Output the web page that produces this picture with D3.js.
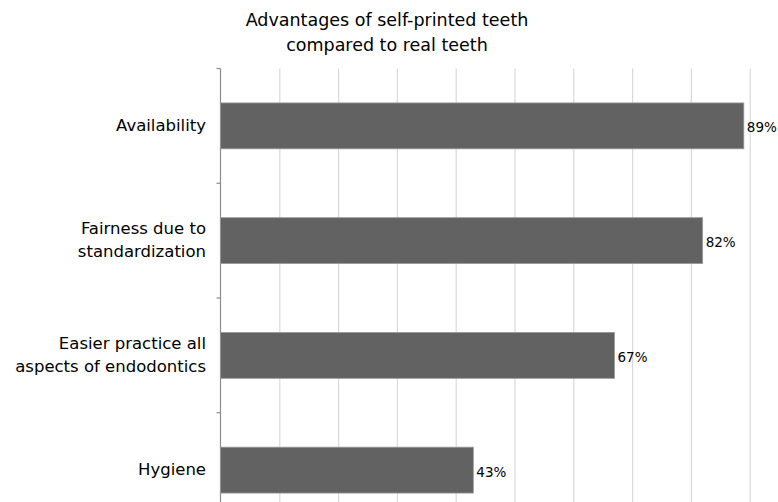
<!DOCTYPE html>
<html>
<head>
<meta charset="utf-8">
<script src="https://cdn.jsdelivr.net/npm/d3@7"></script>
<style>
  html, body { margin: 0; padding: 0; background: #fff; }
  svg { display: block; font-family: "DejaVu Sans", Verdana, sans-serif; }
</style>
</head>
<body>
<svg id="chart" width="778" height="502"></svg>
<script>
// Survey results: share of respondents naming each advantage
const titleLines = ["Advantages of self-printed teeth", "compared to real teeth"];
const categories = [
  ["Availability"],
  ["Fairness due to", "standardization"],
  ["Easier practice all", "aspects of endodontics"],
  ["Hygiene"]
];
const values = [89, 82, 67, 43];
const gridTicks = [10, 20, 30, 40, 50, 60, 70, 80, 90, 100];

const svg = d3.select("#chart");
const plotLeft = 220.5, plotTop = 68.5;
const plotH = 459;          // plot continues below the visible frame
const plotW = 588;          // 0–100 % spans past the right edge

const x = d3.scaleLinear().domain([0, 100]).range([plotLeft, plotLeft + plotW]);
const keys = categories.map(c => c.join(" "));
const y = d3.scaleBand().domain(keys).range([plotTop, plotTop + plotH])
  .paddingInner(0.6).paddingOuter(0.3);

// vertical gridlines
const grid = svg.append("g")
  .attr("transform", `translate(0,${plotTop})`)
  .call(d3.axisTop(x).tickValues(gridTicks).tickSize(-plotH).tickFormat(""));
grid.select(".domain").remove();
grid.selectAll(".tick line").attr("stroke", "#d9d9d9").attr("stroke-width", 1.2);

// category axis with ticks between bands
const boundaries = d3.range(categories.length + 1).map(i => plotTop + i * y.step());
const axisG = svg.append("g");
axisG.append("line")
  .attr("x1", plotLeft).attr("x2", plotLeft)
  .attr("y1", plotTop).attr("y2", plotTop + plotH)
  .attr("stroke", "#8c8c8c").attr("stroke-width", 1.2);
axisG.selectAll("line.tk").data(boundaries).join("line")
  .attr("class", "tk")
  .attr("x1", plotLeft - 4).attr("x2", plotLeft)
  .attr("y1", d => d).attr("y2", d => d)
  .attr("stroke", "#8c8c8c").attr("stroke-width", 1.2);

// bars
svg.append("g").selectAll("rect").data(values).join("rect")
  .attr("x", x(0))
  .attr("y", (d, i) => y(keys[i]))
  .attr("width", d => x(d) - x(0))
  .attr("height", y.bandwidth())
  .attr("fill", "#626262")
  .attr("stroke", "#9a9a9a")
  .attr("stroke-width", 0.8);

// value labels
svg.append("g").selectAll("text").data(values).join("text")
  .attr("x", d => x(d) + 3)
  .attr("y", (d, i) => y(keys[i]) + y.bandwidth() / 2 + 6.5)
  .attr("font-size", 13.5)
  .attr("fill", "#000")
  .text(d => d + "%");

// category labels
const lineGap = 23;
svg.append("g").selectAll("text").data(categories).join("text")
  .attr("text-anchor", "end")
  .attr("font-size", 16.5)
  .attr("fill", "#000")
  .each(function (lines, i) {
    const cy = y(keys[i]) + y.bandwidth() / 2 + 5;
    const y0 = cy - (lines.length - 1) * lineGap / 2;
    d3.select(this).selectAll("tspan").data(lines).join("tspan")
      .attr("x", 206)
      .attr("y", (t, j) => y0 + j * lineGap)
      .text(t => t);
  });

// title
svg.append("g").selectAll("text").data(titleLines).join("text")
  .attr("x", 387)
  .attr("y", (d, i) => 26 + i * 25)
  .attr("text-anchor", "middle")
  .attr("font-size", 17.5)
  .attr("fill", "#000")
  .text(d => d);
</script>
</body>
</html>
